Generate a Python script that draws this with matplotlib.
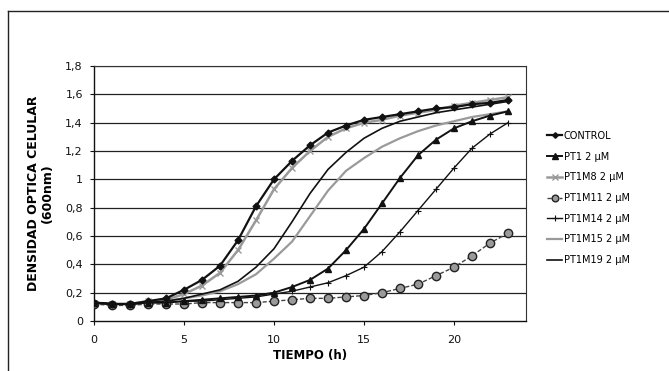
import matplotlib
matplotlib.use("Agg")
import matplotlib.pyplot as plt
from matplotlib.lines import Line2D

hours = list(range(24))

control = [0.13, 0.12, 0.12, 0.14, 0.16, 0.22, 0.29, 0.39, 0.57, 0.81, 1.00, 1.13,
           1.24, 1.33, 1.38, 1.42, 1.44, 1.46, 1.48, 1.50, 1.51, 1.53, 1.54, 1.56]
pt1 = [0.13, 0.12, 0.12, 0.13, 0.13, 0.14, 0.15, 0.16, 0.17, 0.18, 0.20, 0.24,
       0.29, 0.37, 0.50, 0.65, 0.83, 1.01, 1.17, 1.28, 1.36, 1.41, 1.45, 1.48]
pt1m8 = [0.13, 0.12, 0.12, 0.14, 0.15, 0.19, 0.25, 0.34, 0.50, 0.71, 0.93, 1.08,
         1.20, 1.30, 1.36, 1.40, 1.42, 1.45, 1.47, 1.49, 1.52, 1.54, 1.56, 1.58]
pt1m11 = [0.12, 0.11, 0.11, 0.12, 0.12, 0.12, 0.13, 0.13, 0.13, 0.13, 0.14, 0.15,
          0.16, 0.16, 0.17, 0.18, 0.20, 0.23, 0.26, 0.32, 0.38, 0.46, 0.55, 0.62]
pt1m14 = [0.13, 0.12, 0.12, 0.13, 0.13, 0.14, 0.14, 0.15, 0.16, 0.17, 0.19, 0.21,
          0.24, 0.27, 0.32, 0.38, 0.49, 0.63, 0.78, 0.93, 1.08, 1.22, 1.32, 1.40]
pt1m15 = [0.13, 0.12, 0.12, 0.13, 0.14, 0.16, 0.18, 0.21, 0.26, 0.33, 0.44, 0.56,
          0.74, 0.92, 1.06, 1.15, 1.23, 1.29, 1.34, 1.38, 1.41, 1.44, 1.46, 1.48]
pt1m19 = [0.13, 0.12, 0.12, 0.13, 0.14, 0.16, 0.19, 0.22, 0.28, 0.38, 0.51, 0.70,
          0.90, 1.07, 1.19, 1.29, 1.36, 1.41, 1.44, 1.47, 1.49, 1.51, 1.53, 1.55]

labels = ["CONTROL", "PT1 2 \u00b5M", "PT1M8 2 \u00b5M", "PT1M11 2 \u00b5M",
          "PT1M14 2 \u00b5M", "PT1M15 2 \u00b5M", "PT1M19 2 \u00b5M"]
yticks = [0, 0.2, 0.4, 0.6, 0.8, 1.0, 1.2, 1.4, 1.6, 1.8]
yticklabels = ["0", "0,2", "0,4", "0,6", "0,8", "1", "1,2", "1,4", "1,6", "1,8"]
xticks = [0, 5, 10, 15, 20]

fig = plt.figure(figsize=(6.69, 3.71), dpi=100)
ax = fig.add_axes([94/669, (371-321)/371, (526-94)/669, (321-66)/371])

# outer chart border (left & top)
fig.add_artist(Line2D([8/669, 8/669], [0, 1-11/371], transform=fig.transFigure,
                      color="#222222", lw=1.0))
fig.add_artist(Line2D([8/669, 1], [1-11/371, 1-11/371], transform=fig.transFigure,
                      color="#222222", lw=1.0))

for y in yticks[1:]:
    ax.axhline(y, color="#222222", lw=0.9, zorder=0)

ax.plot(hours, pt1m15, color="#9a9a9a", lw=1.6, label=labels[5], zorder=2)
ax.plot(hours, pt1m8, color="#9a9a9a", lw=1.8, marker="x", ms=5, mew=1.0,
        label=labels[2], zorder=2)
ax.plot(hours, pt1m19, color="#111111", lw=1.2, label=labels[6], zorder=3)
ax.plot(hours, pt1m14, color="#111111", lw=1.0, marker="+", ms=5, mew=0.8,
        label=labels[4], zorder=3)
ax.plot(hours, pt1m11, color="#444444", lw=1.0, ls=(0, (3, 1.5)), marker="o", ms=6,
        mfc="#9a9a9a", mec="#222222", mew=1.0, label=labels[3], zorder=3)
ax.plot(hours, pt1, color="#111111", lw=1.4, marker="^", ms=5, label=labels[1], zorder=4)
ax.plot(hours, control, color="#111111", lw=1.6, marker="D", ms=3.5, label=labels[0], zorder=5)

ax.set_xlim(0, 24)
ax.set_ylim(0, 1.8)
ax.set_yticks(yticks)
ax.set_yticklabels(yticklabels)
ax.set_xticks(xticks)
ax.tick_params(labelsize=8, length=3, width=0.8, colors="#111111", pad=5)
ax.tick_params(axis="x", pad=7)
for s in ["left", "bottom"]:
    ax.spines[s].set_color("#111111")
    ax.spines[s].set_linewidth(1.0)
for s in ["top", "right"]:
    ax.spines[s].set_color("#333333")
    ax.spines[s].set_linewidth(0.8)
    ax.spines[s].set_linestyle((0, (3, 1)))

ax.set_xlabel("TIEMPO (h)", fontsize=8.5, fontweight="bold", labelpad=3)
ax.set_ylabel("DENSIDAD OPTICA CELULAR\n(600nm)", fontsize=9, fontweight="bold",
              labelpad=8, linespacing=1.15)

handles, labs = ax.get_legend_handles_labels()
order = [labs.index(l) for l in labels]
leg = fig.legend([handles[i] for i in order], [labs[i] for i in order],
                 loc="upper left", bbox_to_anchor=(543/669, 1-127/371),
                 frameon=False, fontsize=7, handlelength=1.6, handletextpad=0.15,
                 labelspacing=1.1, borderaxespad=0, markerscale=0.8)

fig.savefig("out.png", dpi=100)
